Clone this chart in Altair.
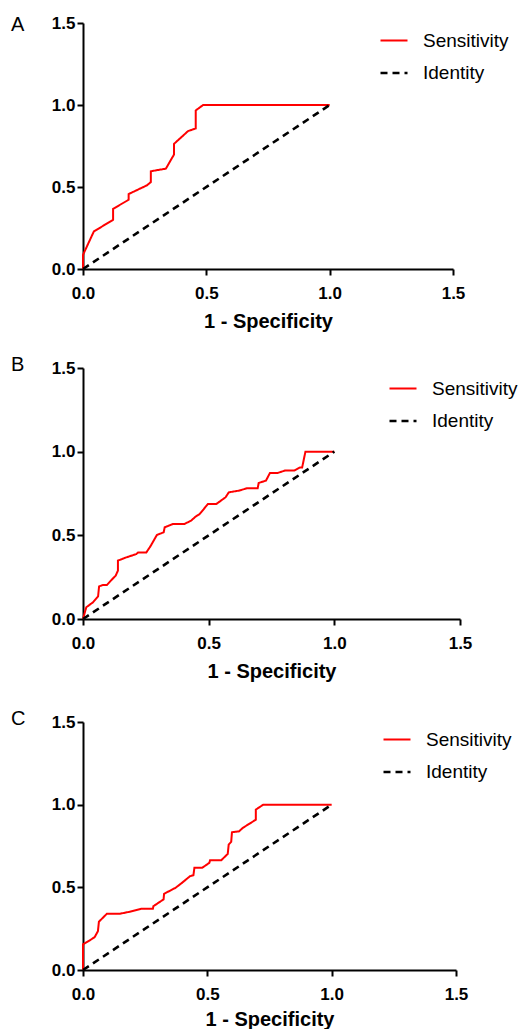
import altair as alt
import pandas as pd

# Panel A ROC curve (1 - specificity, sensitivity)
a_fpr = [0.0, 0.0, 0.044, 0.122, 0.122, 0.185, 0.185, 0.259, 0.275, 0.275, 0.336, 0.369, 0.369,
         0.426, 0.457, 0.457, 0.487, 1.0]
a_tpr = [0.0, 0.086, 0.229, 0.30, 0.367, 0.422, 0.457, 0.51, 0.53, 0.596, 0.612, 0.698, 0.763,
         0.841, 0.857, 0.967, 1.0, 1.0]

# Panel B ROC curve
b_fpr = [0.0, 0.013, 0.04, 0.06, 0.064, 0.079, 0.095, 0.117, 0.13, 0.139, 0.139, 0.172, 0.212,
         0.219, 0.252, 0.268, 0.294, 0.321, 0.325, 0.358, 0.404, 0.43, 0.45, 0.464, 0.497, 0.53,
         0.567, 0.58, 0.62, 0.652, 0.695, 0.699, 0.728, 0.744, 0.775, 0.805, 0.841, 0.864, 0.872,
         0.885, 1.0]
b_tpr = [0.0, 0.07, 0.10, 0.135, 0.195, 0.203, 0.203, 0.239, 0.259, 0.289, 0.349, 0.368, 0.388,
         0.398, 0.398, 0.434, 0.502, 0.518, 0.548, 0.568, 0.568, 0.588, 0.614, 0.627, 0.687, 0.687,
         0.727, 0.757, 0.767, 0.781, 0.781, 0.813, 0.827, 0.873, 0.873, 0.888, 0.888, 0.906, 0.906,
         1.0, 1.0]

# Panel C ROC curve
c_fpr = [0.0, 0.0, 0.027, 0.047, 0.06, 0.064, 0.08, 0.096, 0.147, 0.187, 0.234, 0.281, 0.283,
         0.324, 0.326, 0.372, 0.398, 0.43, 0.444, 0.448, 0.479, 0.508, 0.511, 0.556, 0.582, 0.586,
         0.596, 0.599, 0.628, 0.642, 0.695, 0.695, 0.725, 1.0]
c_tpr = [0.0, 0.155, 0.179, 0.199, 0.235, 0.292, 0.316, 0.34, 0.34, 0.352, 0.37, 0.37, 0.386,
         0.427, 0.461, 0.497, 0.527, 0.567, 0.573, 0.618, 0.618, 0.648, 0.664, 0.664, 0.702, 0.759,
         0.775, 0.833, 0.839, 0.859, 0.909, 0.97, 1.0, 1.0]

identity_x = [0.0, 1.0]
identity_y = [0.0, 1.0]

series_names = ["Sensitivity", "Identity"]
series_colors = ["#ff0000", "#000000"]
ticks = [0.0, 0.5, 1.0, 1.5]

FONT = "Liberation Sans"


def make_df(fpr, tpr):
    rows = []
    for i, (x, y) in enumerate(zip(fpr, tpr)):
        rows.append({"x": x, "y": y, "series": "Sensitivity", "i": i})
    for i, (x, y) in enumerate(zip(identity_x, identity_y)):
        rows.append({"x": x, "y": y, "series": "Identity", "i": i})
    return pd.DataFrame(rows)


def legend_params(lx, ly):
    return alt.Legend(
        title=None, orient="none", legendX=lx, legendY=ly,
        symbolType="stroke", symbolSize=729, symbolStrokeWidth=2,
        labelFont=FONT, labelFontSize=19, labelColor="#000000",
        labelOffset=14, rowPadding=7,
    )


def panel(fpr, tpr, letter, w, h, lx, ly, toff, xtitle_pad=10):
    df = make_df(fpr, tpr)
    leg = legend_params(lx, ly)
    return alt.Chart(df).mark_line().encode(
        x=alt.X("x:Q", scale=alt.Scale(domain=[0, 1.5], nice=False),
                axis=alt.Axis(values=ticks, format=".1f", title="1 - Specificity",
                              labelPadding=10, titlePadding=xtitle_pad, labelFlush=False)),
        y=alt.Y("y:Q", scale=alt.Scale(domain=[0, 1.5], nice=False),
                axis=alt.Axis(values=ticks, format=".1f", title=None, labelPadding=2,
                              labelFlush=False)),
        color=alt.Color("series:N", scale=alt.Scale(domain=series_names, range=series_colors),
                        legend=leg),
        strokeDash=alt.StrokeDash("series:N",
                                  scale=alt.Scale(domain=series_names, range=[[1, 0], [7, 5]]),
                                  legend=leg),
        strokeWidth=alt.StrokeWidth("series:N",
                                    scale=alt.Scale(domain=series_names, range=[2, 2.6]),
                                    legend=leg),
        order=alt.Order("i:Q"),
    ).properties(
        width=w, height=h,
        title=alt.TitleParams(letter, anchor="start", frame="group", dx=-72, offset=toff,
                              fontSize=20, font=FONT, fontWeight="normal", color="#000000"),
    )


pa = panel(a_fpr, a_tpr, "A", 370, 246, 296, 3, -21)
pb = panel(b_fpr, b_tpr, "B", 377, 251, 305, 6, -16)
pc = panel(c_fpr, c_tpr, "C", 373, 248, 299, 3, -16, xtitle_pad=7)

indep = dict(color="independent", strokeDash="independent", strokeWidth="independent")

top_pair = alt.vconcat(pa, pb, spacing=24).resolve_scale(**indep).resolve_legend(**indep)

chart = alt.vconcat(top_pair, pc, spacing=28).resolve_scale(**indep).resolve_legend(
    **indep
).properties(
    padding={"left": 3, "top": 6, "right": 0, "bottom": 0}
).configure_view(stroke=None).configure_axis(
    grid=False,
    domainColor="#000000", domainWidth=2,
    tickColor="#000000", tickWidth=2, tickSize=6,
    labelFont=FONT, labelFontSize=17, labelFontWeight="bold", labelColor="#000000",
    titleFont=FONT, titleFontSize=20, titleFontWeight="bold", titleColor="#000000",
)

chart.save("out.html", embed_options={"renderer": "svg", "actions": False})
